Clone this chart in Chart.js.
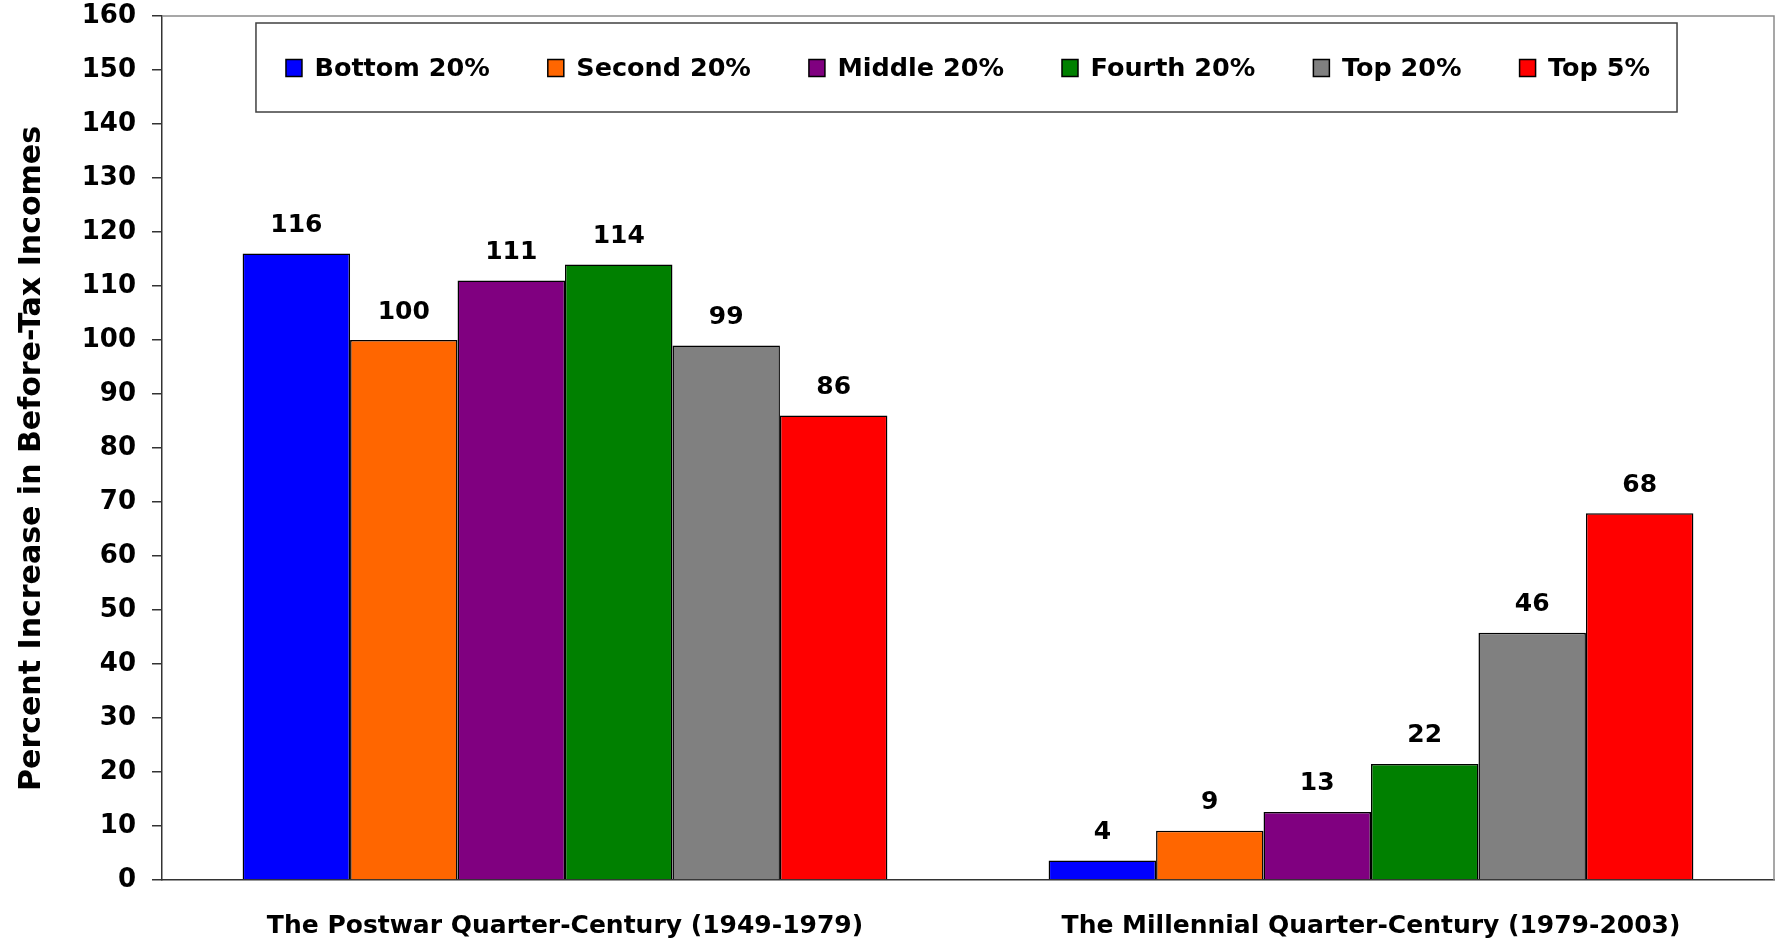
<!DOCTYPE html>
<html>
<head>
<meta charset="utf-8">
<title>Percent Increase in Before-Tax Incomes</title>
<script src="https://cdn.jsdelivr.net/npm/chart.js@4.4.1/dist/chart.umd.min.js"></script>
<style>
  html, body { margin: 0; padding: 0; background: #fff; }
  #chart { display: block; }
</style>
</head>
<body>
<canvas id="chart" width="1779" height="940"></canvas>
<script>
const categories = ['The Postwar Quarter-Century (1949-1979)', 'The Millennial Quarter-Century (1979-2003)'];
const seriesNames = ['Bottom 20%', 'Second 20%', 'Middle 20%', 'Fourth 20%', 'Top 20%', 'Top 5%'];
const seriesColors = ['#0000FF', '#FF6600', '#800080', '#008000', '#808080', '#FF0000'];
const bottom20 = [116, 3.6];
const second20 = [100, 9.1];
const middle20 = [111, 12.6];
const fourth20 = [114, 21.5];
const top20 = [99, 45.8];
const top5 = [86, 67.9];
const yTicks = { min: 0, max: 160, step: 10 };

const FONT = '"DejaVu Sans", "Liberation Sans", Arial, sans-serif';
const seriesValues = [bottom20, second20, middle20, fourth20, top20, top5];

// value labels above each bar
const barLabels = {
    id: 'barLabels',
    afterDatasetsDraw(chart) {
        const ctx = chart.ctx;
        ctx.save();
        ctx.font = 'bold 25px ' + FONT;
        ctx.fillStyle = '#000';
        ctx.textAlign = 'center';
        ctx.textBaseline = 'middle';
        chart.data.datasets.forEach((ds, i) => {
            chart.getDatasetMeta(i).data.forEach((bar, j) => {
                ctx.fillText(String(Math.round(ds.data[j])), bar.x, bar.y - 28);
            });
        });
        ctx.restore();
    }
};

// grey top/right frame of the plot area
const plotFrame = {
    id: 'plotFrame',
    beforeDatasetsDraw(chart) {
        const { ctx, chartArea: a } = chart;
        ctx.save();
        ctx.strokeStyle = '#8a8a8a';
        ctx.lineWidth = 1.5;
        ctx.beginPath();
        ctx.moveTo(a.left, a.top);
        ctx.lineTo(a.right, a.top);
        ctx.lineTo(a.right, a.bottom);
        ctx.stroke();
        ctx.restore();
    }
};

// boxed legend sitting inside the plot area
const boxedLegend = {
    id: 'boxedLegend',
    afterDraw(chart) {
        const { ctx, chartArea: a } = chart;
        const boxW = 16, boxH = 17, gap = 12.5, spacing = 58;
        ctx.save();
        ctx.font = 'bold 25.5px ' + FONT;
        const items = chart.data.datasets.map(ds => ({
            text: ds.label,
            color: ds.backgroundColor,
            w: boxW + gap + ctx.measureText(ds.label).width
        }));
        const total = items.reduce((s, it) => s + it.w, 0) + spacing * (items.length - 1);
        let x = (a.left + a.right) / 2 - total / 2;
        const cy = a.top + 52;

        ctx.strokeStyle = '#404040';
        ctx.lineWidth = 1.5;
        ctx.fillStyle = '#fff';
        ctx.fillRect(x - 30, cy - 45, total + 57, 89);
        ctx.strokeRect(x - 30, cy - 45, total + 57, 89);

        ctx.textBaseline = 'middle';
        ctx.textAlign = 'left';
        items.forEach(it => {
            ctx.fillStyle = it.color;
            ctx.fillRect(x, cy - boxH / 2, boxW, boxH);
            ctx.strokeStyle = '#000';
            ctx.strokeRect(x, cy - boxH / 2, boxW, boxH);
            ctx.fillStyle = '#000';
            ctx.fillText(it.text, x + boxW + gap, cy + 1);
            x += it.w + spacing;
        });
        ctx.restore();
    }
};

const datasets = seriesNames.map((name, i) => ({
    label: name,
    data: seriesValues[i],
    backgroundColor: seriesColors[i],
    borderColor: '#000',
    borderWidth: 1.5,
    categoryPercentage: 0.8,
    barPercentage: 1.0
}));

new Chart(document.getElementById('chart').getContext('2d'), {
    type: 'bar',
    data: { labels: categories, datasets: datasets },
    options: {
        responsive: false,
        animation: false,
        devicePixelRatio: 1,
        layout: { padding: { top: 0, right: 5, bottom: 0, left: 0 } },
        plugins: {
            legend: { display: false },
            tooltip: { enabled: false },
            title: { display: false }
        },
        scales: {
            x: {
                grid: { display: false, drawTicks: false },
                border: { display: true, color: '#333', width: 1.5 },
                ticks: {
                    color: '#000',
                    padding: 31,
                    maxRotation: 0,
                    autoSkip: false,
                    font: { family: FONT, size: 25, weight: 'bold' }
                },
                afterFit(scale) { scale.height = 60; }
            },
            y: {
                min: yTicks.min,
                max: yTicks.max,
                grid: {
                    display: true,
                    drawOnChartArea: false,
                    drawTicks: true,
                    tickLength: 10,
                    color: '#333',
                    lineWidth: 1.5
                },
                border: { display: true, color: '#333', width: 1.5 },
                ticks: {
                    stepSize: yTicks.step,
                    color: '#000',
                    padding: 16,
                    font: { family: FONT, size: 26, weight: 'bold' }
                },
                title: {
                    display: true,
                    text: 'Percent Increase in Before-Tax Incomes  ',
                    color: '#000',
                    font: { family: FONT, size: 30, weight: 'bold' },
                    padding: { top: 14, bottom: 10 }
                },
                afterFit(scale) {
                    scale.width = 162;
                    scale.paddingTop = 16;
                }
            }
        }
    },
    plugins: [plotFrame, barLabels, boxedLegend]
});
</script>
</body>
</html>
